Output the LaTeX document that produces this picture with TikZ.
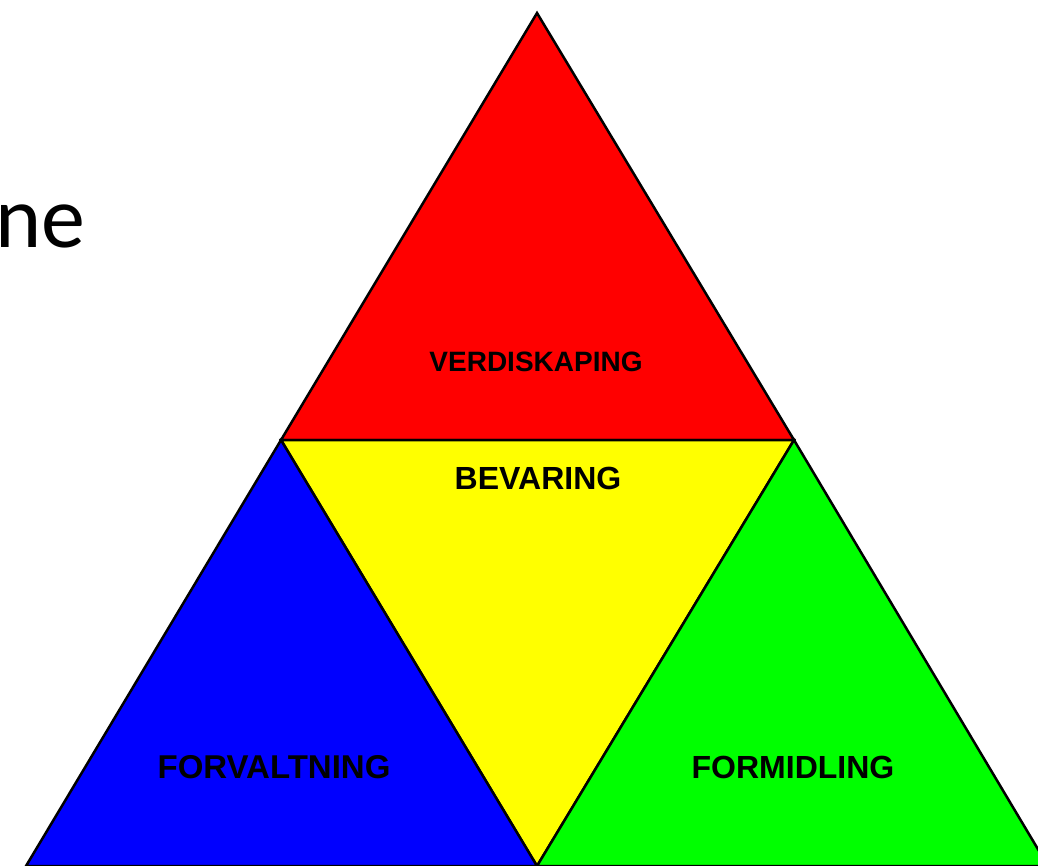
\documentclass[tikz,border=0pt]{standalone}
\usepackage{fontspec}
\setmainfont{Liberation Sans}
\newfontfamily\calib{Carlito}
\begin{document}
\begin{tikzpicture}[x=1pt,y=-1pt,
  tri/.style={draw=black,line width=2.5pt,line join=miter},
  lbl/.style={inner sep=0pt,font=\bfseries\fontsize{#1}{#1}\selectfont,text=black}]
\useasboundingbox (0,0) rectangle (1038,865);
\coordinate (apex) at (537,13);
\coordinate (ml) at (281,440);
\coordinate (mr) at (794,440);
\coordinate (bl) at (26,866);
\coordinate (bm) at (537,866);
\coordinate (br) at (1048,866);
\begin{scope}
\clip (0,0) rectangle (1038,865);
\filldraw[tri,fill={rgb,255:red,255;green,0;blue,0}] (apex) -- (ml) -- (mr) -- cycle;
\filldraw[tri,fill={rgb,255:red,255;green,255;blue,0}] (ml) -- (mr) -- (bm) -- cycle;
\filldraw[tri,fill={rgb,255:red,0;green,0;blue,255}] (ml) -- (bm) -- (bl) -- cycle;
\filldraw[tri,fill={rgb,255:red,0;green,255;blue,0}] (mr) -- (br) -- (bm) -- cycle;
\end{scope}
\node[lbl=28] (verd) at (536,362) {VERDISKAPING};
\node[lbl=32] (bev) at (538,478) {BEVARING};
\node[lbl=33] (forv) at (274,767) {FORVALTNING};
\node[lbl=32] (form) at (793,767) {FORMIDLING};
\node[anchor=base east,inner sep=0pt,font=\calib\fontsize{88}{88}\selectfont] (ne) at (86,247) {ne};
\end{tikzpicture}
\end{document}
